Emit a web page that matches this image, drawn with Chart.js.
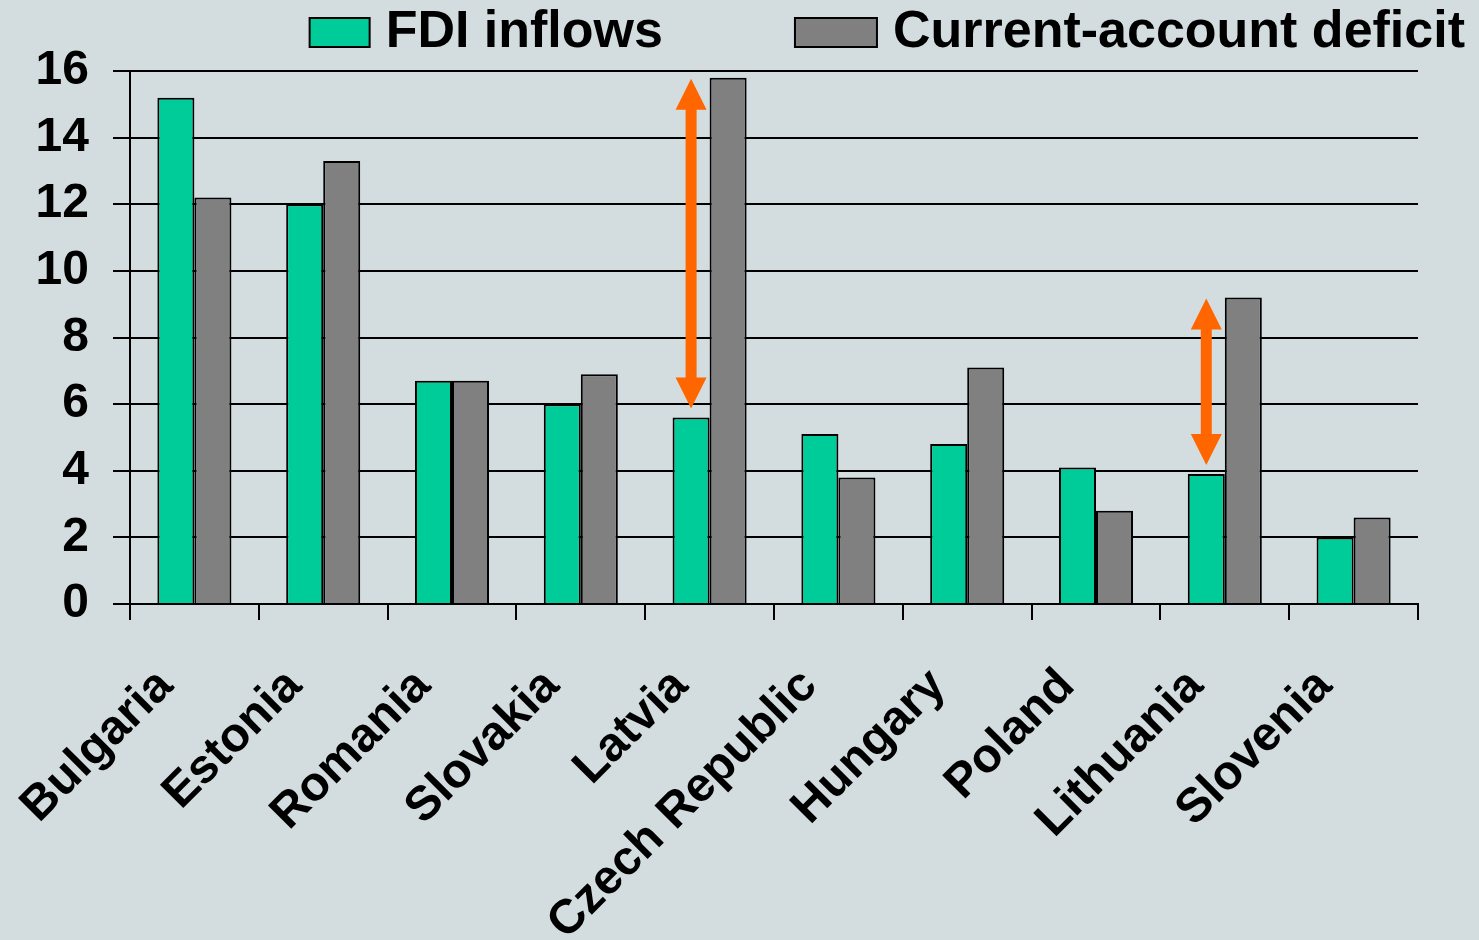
<!DOCTYPE html>
<html>
<head>
<meta charset="utf-8">
<script src="https://cdn.jsdelivr.net/npm/chart.js@4.4.0/dist/chart.umd.min.js"></script>
<style>
html, body { margin: 0; padding: 0; background: #d3dddf; }
</style>
</head>
<body>
<canvas id="myChart" width="1479" height="940"></canvas>
<script>
var paises = ['Bulgaria', 'Estonia', 'Romania', 'Slovakia', 'Latvia', 'Czech Republic', 'Hungary', 'Poland', 'Lithuania', 'Slovenia'];
var fdiInflows = [15.2, 12.0, 6.7, 6.0, 5.6, 5.1, 4.8, 4.1, 3.9, 2.0];
var deficitConta = [12.2, 13.3, 6.7, 6.9, 15.8, 3.8, 7.1, 2.8, 9.2, 2.6];
var ticksY = [0, 2, 4, 6, 8, 10, 12, 14, 16];
var setas = ['Latvia', 'Lithuania']; // paises com a seta laranja

var corFundo = '#d3dddf';
var fonte = '"Liberation Sans", Arial, sans-serif';
Chart.defaults.font.family = fonte;

// pinta o fundo do canvas
var fundoPlugin = {
    id: 'fundo',
    beforeDraw: function (chart) {
        var ctx = chart.ctx;
        ctx.save();
        ctx.fillStyle = corFundo;
        ctx.fillRect(0, 0, chart.width, chart.height);
        ctx.restore();
    }
};

// legenda no topo, alinhada a direita
var legendaPlugin = {
    id: 'legenda',
    afterDraw: function (chart) {
        var ctx = chart.ctx;
        var sets = chart.data.datasets;
        var larguraCaixa = [60, 82];
        var gapTexto = 16, gapItem = 132;
        ctx.save();
        ctx.font = 'bold 52px ' + fonte;
        ctx.textBaseline = 'middle';
        var larguras = sets.map(function (d, i) { return larguraCaixa[i] + gapTexto + ctx.measureText(d.label).width; });
        var total = larguras.reduce(function (a, b) { return a + b; }, 0) + gapItem * (sets.length - 1);
        var x = chart.width - 14 - total;
        sets.forEach(function (d, i) {
            ctx.fillStyle = d.backgroundColor;
            ctx.fillRect(x, 18, larguraCaixa[i], 29);
            ctx.lineWidth = 2;
            ctx.strokeStyle = '#000';
            ctx.strokeRect(x, 18, larguraCaixa[i], 29);
            ctx.fillStyle = '#000';
            ctx.fillText(d.label, x + larguraCaixa[i] + gapTexto, 33);
            x += larguras[i] + gapItem;
        });
        ctx.restore();
    }
};

function setaDupla(ctx, x, yTopo, yBase) {
    var haste = 11, cabeca = 31, compr = 31;
    ctx.beginPath();
    ctx.moveTo(x, yTopo);
    ctx.lineTo(x + cabeca / 2, yTopo + compr);
    ctx.lineTo(x + haste / 2, yTopo + compr);
    ctx.lineTo(x + haste / 2, yBase - compr);
    ctx.lineTo(x + cabeca / 2, yBase - compr);
    ctx.lineTo(x, yBase);
    ctx.lineTo(x - cabeca / 2, yBase - compr);
    ctx.lineTo(x - haste / 2, yBase - compr);
    ctx.lineTo(x - haste / 2, yTopo + compr);
    ctx.lineTo(x - cabeca / 2, yTopo + compr);
    ctx.closePath();
    ctx.fill();
}

var setasPlugin = {
    id: 'setas',
    afterDatasetsDraw: function (chart) {
        var ctx = chart.ctx;
        var escalaY = chart.scales.y;
        ctx.save();
        ctx.fillStyle = '#ff6600';
        setas.forEach(function (nome) {
            var i = paises.indexOf(nome);
            var barra = chart.getDatasetMeta(0).data[i];
            var yTopo = escalaY.getPixelForValue(deficitConta[i]) + 1;
            var yBase = escalaY.getPixelForValue(fdiInflows[i]) - 9;
            setaDupla(ctx, barra.x, yTopo, yBase);
        });
        ctx.restore();
    }
};

var myChart = new Chart(document.getElementById('myChart'), {
    type: 'bar',
    data: {
        labels: paises,
        datasets: [{
            label: 'FDI inflows',
            data: fdiInflows,
            backgroundColor: '#00cc99',
            borderColor: '#000',
            borderWidth: 2
        }, {
            label: 'Current-account deficit',
            data: deficitConta,
            backgroundColor: '#808080',
            borderColor: '#000',
            borderWidth: 2
        }]
    },
    options: {
        responsive: false,
        animation: false,
        categoryPercentage: 0.575,
        barPercentage: 1,
        layout: { padding: { top: 71, right: 61, left: 0, bottom: 0 } },
        plugins: {
            legend: { display: false },
            tooltip: { enabled: false }
        },
        scales: {
            x: {
                grid: { offset: true, drawOnChartArea: false, drawTicks: true, tickLength: 16, color: '#000', lineWidth: 2 },
                border: { display: true, color: '#000', width: 2 },
                ticks: {
                    color: '#000',
                    font: { size: 48, weight: 'bold' },
                    maxRotation: 45,
                    minRotation: 45,
                    autoSkip: false,
                    padding: 38,
                    labelOffset: -29
                },
                afterFit: function (s) { s.height = 336; }
            },
            y: {
                min: 0,
                max: 16,
                grid: { color: '#000', lineWidth: 2, tickLength: 17, drawTicks: true },
                border: { display: true, color: '#000', width: 2 },
                ticks: { color: '#000', font: { size: 48, weight: 'bold' }, padding: 24 },
                afterBuildTicks: function (s) { s.ticks = ticksY.map(function (v) { return { value: v }; }); },
                afterFit: function (s) { s.width = 130; }
            }
        }
    },
    plugins: [fundoPlugin, setasPlugin, legendaPlugin]
});
</script>
</body>
</html>
